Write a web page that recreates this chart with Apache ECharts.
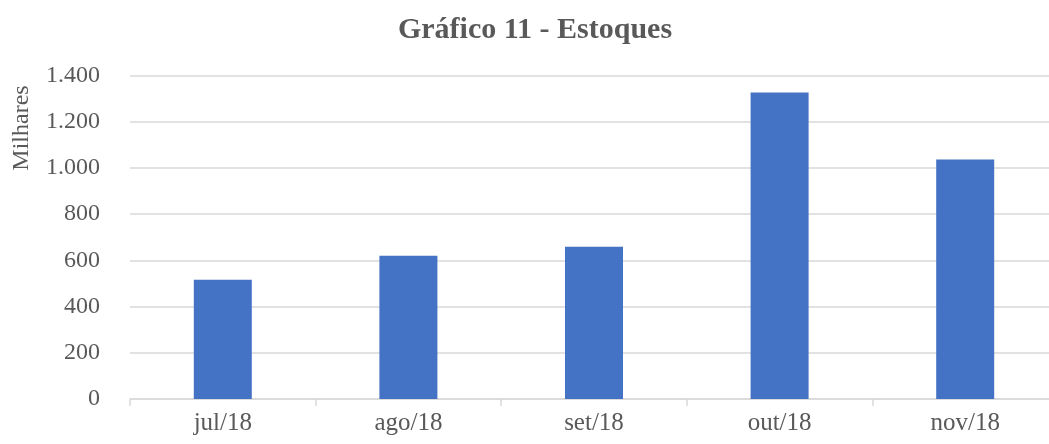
<!DOCTYPE html>
<html>
<head>
<meta charset="utf-8">
<script src="https://cdn.jsdelivr.net/npm/echarts@6/dist/echarts.min.js"></script>
<style>html,body{margin:0;padding:0;background:#fff;overflow:hidden;width:1049px;height:444px;}#c{width:1062px;height:444px;}</style>
</head>
<body>
<div id="c"></div>
<script>
const categories = ['jul/18', 'ago/18', 'set/18', 'out/18', 'nov/18'];
const estoques = [516, 620, 659, 1326, 1037];
const yTicks = { min: 0, max: 1400, interval: 200 };

const chart = echarts.init(document.getElementById('c'), null, { renderer: 'canvas' });
const fam = '"Liberation Serif", "DejaVu Serif", serif';
chart.setOption({
  animation: false,
  backgroundColor: '#fff',
  title: {
    text: 'Gráfico 11 - Estoques',
    left: 530, top: 10, textAlign: 'center',
    textStyle: { fontFamily: fam, fontWeight: 'bold', fontSize: 30, color: '#595959' }
  },
  graphic: [{
    type: 'text', x: 22, y: 128, rotation: Math.PI / 2,
    style: { text: 'Milhares', fontFamily: fam, fontSize: 24, fill: '#595959', align: 'center', verticalAlign: 'middle' }
  }],
  grid: { left: 130, top: 75.5, width: 928, height: 323.5, containLabel: false },
  xAxis: {
    type: 'category', data: categories,
    axisLine: { lineStyle: { color: '#d9d9d9', width: 1.5 } },
    axisTick: { show: true, length: 7, lineStyle: { color: '#d9d9d9', width: 1.5 } },
    axisLabel: { fontFamily: fam, fontSize: 25, color: '#595959', margin: 12 }
  },
  yAxis: {
    type: 'value', min: yTicks.min, max: yTicks.max, interval: yTicks.interval,
    axisLine: { show: false }, axisTick: { show: false },
    splitLine: { lineStyle: { color: '#d9d9d9', width: 1.5 } },
    axisLabel: {
      fontFamily: fam, fontSize: 24, color: '#595959', margin: 30,
      formatter: v => v.toLocaleString('de-DE')
    }
  },
  series: [{
    type: 'bar', data: estoques, barWidth: 58,
    itemStyle: { color: '#4472C4' }
  }]
});
</script>
</body>
</html>
